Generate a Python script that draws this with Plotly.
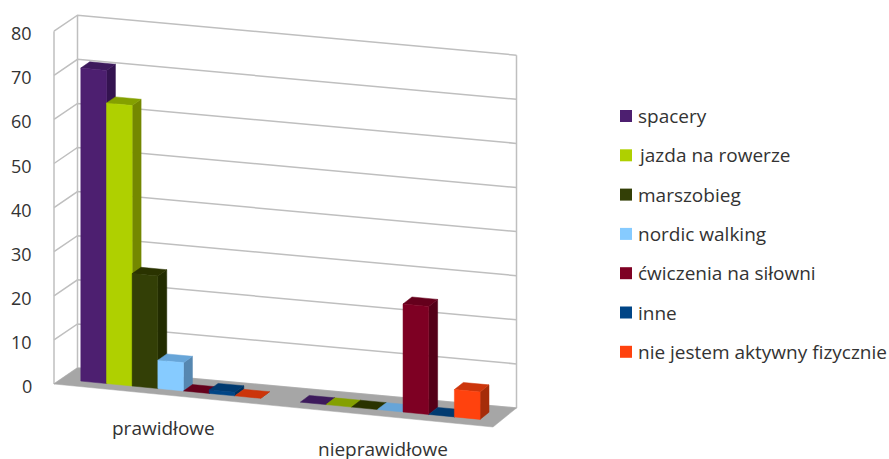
import plotly.graph_objects as go

categories = ["prawidłowe", "nieprawidłowe"]
series_names = ["spacery", "jazda na rowerze", "marszobieg", "nordic walking",
                "ćwiczenia na siłowni", "inne", "nie jestem aktywny fizycznie"]
spacery = [71, 0]
jazda = [63.6, 0]
marszobieg = [25.5, 0]
nordic = [6.4, 0]
silownia = [0, 24.5]
inne = [0.8, 0]
nieaktywny = [0, 6.2]
series_values = [spacery, jazda, marszobieg, nordic, silownia, inne, nieaktywny]
tick_values = [0, 10, 20, 30, 40, 50, 60, 70, 80]

front_colors = ["#4D1F70", "#AFD000", "#333F06", "#86CBFF", "#7E0023", "#004586", "#FF420E"]
top_colors = ["#3D1A5C", "#84A000", "#2A3300", "#67A5D8", "#65001C", "#003A70", "#CC350B"]
side_colors = ["#341350", "#748800", "#222C00", "#5687B0", "#540018", "#002F5B", "#A52C09"]
GRID = "#BFBFBF"
FLOOR = "#A6A6A6"
TEXT = "#333333"
FONT = "Open Sans"


def P(u, v, d):
    """Project category position u (0-1), value v and depth d (0-1) to the page."""
    x = 54 + 439 * u + 23.5 * d
    y = 384 + 43 * u - (16 + 3 * u) * d - 4.41 * v
    return x, y


def poly(points, color, name):
    xy = [P(*p) for p in points]
    xs = [a for a, _ in xy] + [xy[0][0]]
    ys = [b for _, b in xy] + [xy[0][1]]
    return go.Scatter(x=xs, y=ys, mode="lines", fill="toself", fillcolor=color,
                      line=dict(color=color, width=0.5), hoverinfo="skip",
                      showlegend=False, name=name)


fig = go.Figure()

# walls
gx, gy = [], []
for t in tick_values:
    for p in [(0, t, 0), (0, t, 1), (1, t, 1)]:
        a, b = P(*p)
        gx.append(a)
        gy.append(b)
    gx.append(None)
    gy.append(None)
for p in [(0, 0, 0), (0, 80, 0), None, (0, 0, 1), (0, 80, 1), None, (1, 0, 1), (1, 80, 1), None]:
    if p is None:
        gx.append(None)
        gy.append(None)
    else:
        a, b = P(*p)
        gx.append(a)
        gy.append(b)
fig.add_trace(go.Scatter(x=gx, y=gy, mode="lines", line=dict(color=GRID, width=1.5),
                         hoverinfo="skip", showlegend=False))

# floor
fig.add_trace(poly([(0, 0, 0), (0, 0, 1), (1, 0, 1), (1, 0, 0)], FLOOR, "floor"))

# bars
GAP = 0.045
BAR = 0.0585
D0, D1 = 0.3, 0.68
for c in range(len(categories)):
    for s, vals in enumerate(series_values):
        v = vals[c]
        u0 = c * 0.5 + GAP + s * BAR
        u1 = u0 + BAR
        fig.add_trace(poly([(u1, 0, D0), (u1, 0, D1), (u1, v, D1), (u1, v, D0)], side_colors[s], series_names[s]))
        fig.add_trace(poly([(u0, v, D0), (u0, v, D1), (u1, v, D1), (u1, v, D0)], top_colors[s], series_names[s]))
        if v > 0:
            fig.add_trace(poly([(u0, 0, D0), (u0, v, D0), (u1, v, D0), (u1, 0, D0)], front_colors[s], series_names[s]))

# legend rows
for s, name in enumerate(series_names):
    row_y = 116 + 39.3 * s
    fig.add_trace(go.Scatter(x=[626], y=[row_y], mode="markers", name=name, hoverinfo="name",
                             showlegend=False,
                             marker=dict(symbol="square", size=12, color=front_colors[s])))
    fig.add_annotation(x=635.5, y=row_y, text=name, showarrow=False, xanchor="left", yanchor="middle",
                       font=dict(family=FONT, size=19, color=TEXT))

# value labels
for t in tick_values:
    _, b = P(0, t, 0)
    fig.add_annotation(x=34, y=b + 2, text=str(t), showarrow=False, xanchor="right", yanchor="middle",
                       font=dict(family=FONT, size=18, color=TEXT))

# category labels
for c, label in enumerate(categories):
    a, b = P(c * 0.5 + 0.25, 0, 0)
    fig.add_annotation(x=a, y=b + 33, text=label, showarrow=False, xanchor="center", yanchor="middle",
                       font=dict(family=FONT, size=19, color=TEXT))

fig.update_layout(
    width=889, height=459, margin=dict(l=0, r=0, t=0, b=0),
    paper_bgcolor="white", plot_bgcolor="white",
    xaxis=dict(visible=False, range=[0, 889], fixedrange=True),
    yaxis=dict(visible=False, range=[459, 0], fixedrange=True),
    font=dict(family=FONT, size=17, color=TEXT),
    showlegend=False,
)
fig.write_html("out.html", config={"displayModeBar": False},
               post_script="document.body.style.margin='0';")
